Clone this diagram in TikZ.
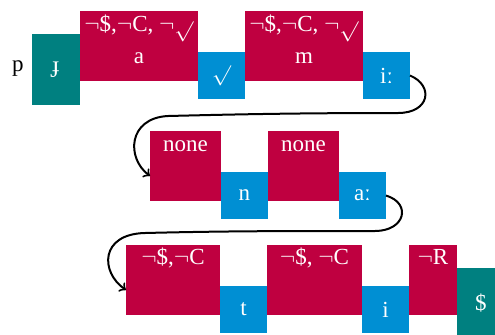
\documentclass[tikz,border=0pt]{standalone}
\usepackage{fix-cm}
\usepackage{fontspec}
\setmainfont{Liberation Serif}
\definecolor{segred}{rgb}{0.75,0,0.25}
\definecolor{segblue}{RGB}{0,143,211}
\definecolor{segteal}{rgb}{0,0.5,0.5}
% radical sign sitting on the baseline
\newcommand{\rad}{\raisebox{-3pt}{\scalebox{1}[0.88]{$\surd$}}}
\begin{document}
\begin{tikzpicture}[x=0.5pt, y=-0.5pt,
  font=\fontsize{11.5}{14}\selectfont,
  cell/.style={inner sep=0pt, outer sep=0pt, anchor=north west},
  redbox/.style={cell, fill=segred, minimum height=35pt},
  bluebox/.style={cell, fill=segblue, text=white, minimum width=23.5pt, minimum height=23.5pt},
  tealbox/.style={cell, fill=segteal, text=white, minimum width=24pt, minimum height=35.5pt},
  lab/.style={text=white, anchor=base, inner sep=0pt},
  conn/.style={->, line width=1pt, black}]
\useasboundingbox (0,0) rectangle (495,334);
\clip (0,0) rectangle (495,334);

% first row
\node[anchor=base, inner sep=0pt] (p) at (18,71) {p};
\node[tealbox] (bstart) at (32,34) {ɟ};
\node[redbox, minimum width=59pt] (ra) at (80,11) {};
\node[lab] (ra-top) at (139,31) {$\neg$\$,$\neg$C, $\neg$\rad};
\node[lab] (ra-seg) at (139,63) {a};
\node[bluebox] (bsurd) at (198,52) {};
\node[lab] (bsurd-seg) at (221.5,75) {\rad};
\node[redbox, minimum width=59pt] (rm) at (245,11) {};
\node[lab] (rm-top) at (304,31) {$\neg$\$,$\neg$C, $\neg$\rad};
\node[lab] (rm-seg) at (304,63) {m};
\node[bluebox] (bii) at (363,52) {iː};

% second row
\node[redbox, minimum width=35.5pt] (rn1) at (150,131) {};
\node[lab] (rn1-top) at (185.5,151) {none};
\node[bluebox] (bn) at (221,172) {n};
\node[redbox, minimum width=35.5pt] (rn2) at (268,131) {};
\node[lab] (rn2-top) at (303.5,151) {none};
\node[bluebox] (baa) at (339,172) {aː};

% third row
\node[redbox, minimum width=47pt] (rt1) at (126,245) {};
\node[lab] (rt1-top) at (173,264) {$\neg$\$,$\neg$C};
\node[bluebox] (bt) at (220,286) {t};
\node[redbox, minimum width=47.5pt] (rt2) at (267,245) {};
\node[lab] (rt2-top) at (314.5,264) {$\neg$\$, $\neg$C};
\node[bluebox] (bi) at (362,286) {i};
\node[redbox, minimum width=24pt] (rr) at (409,245) {};
\node[lab] (rr-top) at (433,264) {$\neg$R};
\node[tealbox] (bend) at (457,268) {\$};

% wrap-around connectors
\coordinate (w1a) at (398,113);
\coordinate (w1b) at (168,116);
\draw[conn] (bii.east) .. controls +(24,10) and +(32,0) .. (w1a)
  .. controls +(-90,0) and +(80,-2) .. (w1b)
  .. controls +(-40,2) and (126,158) .. ([yshift=-5pt]rn1.west);
\coordinate (w2a) at (375,231);
\coordinate (w2b) at (145,233);
\draw[conn] (baa.east) .. controls +(26,8) and +(30,0) .. (w2a)
  .. controls +(-90,0) and +(80,-2) .. (w2b)
  .. controls +(-45,1) and (100,272) .. ([yshift=-5pt]rt1.west);
\end{tikzpicture}
\end{document}
